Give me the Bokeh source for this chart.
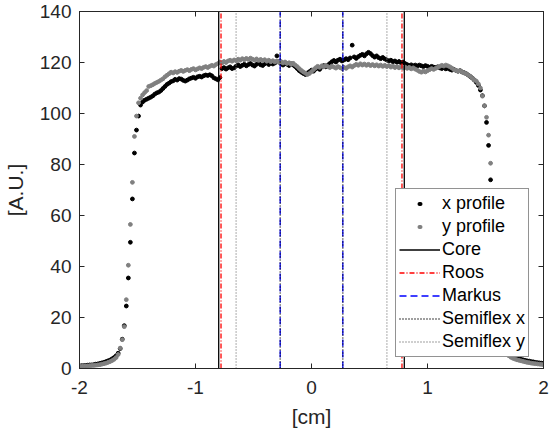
import numpy as np
from bokeh.plotting import figure
from bokeh.models import Range1d, FixedTicker, LinearAxis, Legend, LegendItem
from bokeh.embed import file_html
from bokeh.resources import INLINE

# ---------------- data ----------------
x_first, x_last, n_samples = -2.0, 2.0, 229
x_cm = np.linspace(x_first, x_last, n_samples)

x_profile = [
    1.0, 1.1, 1.1, 1.2, 1.3, 1.4, 1.4, 1.5, 1.7, 1.8, 2.0, 2.2, 2.4, 2.7, 3.0, 3.3, 3.8, 4.3, 5.0, 6.0,
    7.8, 11.5, 16.8, 24.5, 35.5, 49.5, 66.5, 84.5, 93.5, 99.0, 103.3, 104.5,
    105.2, 105.6, 106.0, 106.4, 106.9, 107.6, 108.1, 108.4, 109.0, 109.8, 110.6, 111.4, 111.9, 112.5,
    112.8, 113.4, 113.1, 113.7, 113.5, 113.0, 112.7, 113.1, 113.6, 113.9, 114.2, 113.8, 114.4, 114.6,
    114.3, 114.8, 115.1, 114.9, 115.2, 114.8, 114.0, 113.6, 113.2, 114.1, 117.6,
    118.0, 117.4, 117.9, 118.3, 117.6, 117.9, 118.6, 119.1, 118.4, 118.9, 119.3, 118.7, 119.2, 119.6,
    119.0, 118.6, 119.3, 119.8, 119.1, 118.8, 119.5, 119.9, 119.2, 120.1, 119.4, 119.8, 122.6, 120.3,
    119.6, 119.0, 119.7, 119.3, 118.8, 119.5, 119.0, 118.4, 117.6, 116.8, 116.2, 115.7, 115.3, 115.9, 116.4,
    117.0, 116.6, 117.4, 117.9, 117.3, 118.2, 118.8, 118.3, 119.0, 119.6, 120.3, 120.8, 120.2, 120.9,
    121.3, 120.6, 121.0, 121.5, 121.1, 121.8, 126.8, 122.2, 121.6, 122.3, 122.8, 123.2, 122.6, 123.4,
    124.0, 123.5, 122.7, 122.1, 122.6, 121.9, 121.5, 122.0, 121.4,
    121.0, 120.6, 120.9, 120.3, 120.6, 120.1, 120.4, 119.9, 120.2, 119.6, 119.2, 118.8, 119.1, 118.7,
    119.0, 118.6, 119.0, 118.7, 118.4, 118.8, 118.5, 118.1, 118.5, 118.2, 118.0, 118.3, 117.9, 117.6,
    118.0, 117.5, 117.8, 117.3, 117.0, 117.3, 116.9, 116.6, 116.8, 116.3, 116.0, 115.6, 115.1, 114.5,
    113.9, 113.1, 112.2,
    111.0, 109.2, 107.0, 103.0, 96.5, 87.5, 74.0, 58.0, 42.0, 28.5, 19.0, 13.0, 9.3, 7.2, 6.0,
    5.2, 4.8, 4.5, 4.2, 4.0, 3.8, 3.6, 3.4, 3.2, 3.0, 2.9, 2.7, 2.6, 2.4, 2.3, 2.2, 2.1, 2.0,
]

y_profile = [
    0.8, 0.9, 0.9, 1.0, 1.0, 1.1, 1.2, 1.2, 1.3, 1.4, 1.5, 1.7, 1.9, 2.1, 2.4, 2.7, 3.1, 3.6, 4.3, 5.5,
    8.0, 11.3, 16.4, 27.0, 40.5, 56.5, 73.0, 91.0, 99.0, 104.2, 106.0, 107.3,
    108.2, 109.0, 110.6, 110.9, 111.3, 111.8, 112.2, 112.6, 113.1, 113.6, 114.4, 115.0, 115.6, 116.2,
    115.9, 116.4, 116.1, 116.6, 116.9, 116.5, 116.9, 117.2, 116.8, 117.3, 117.6, 117.1, 117.5, 117.9,
    117.6, 118.1, 118.4, 118.0, 118.5, 118.9, 118.6, 119.2, 119.6, 120.2, 119.8,
    120.4, 120.0, 120.6, 120.9, 120.5, 121.0, 120.7, 121.3, 120.9, 121.5, 121.1, 121.6, 121.2, 121.7,
    121.3, 120.9, 121.4, 120.8, 121.2, 120.7, 121.1, 120.5, 120.9, 120.3, 120.7, 120.2, 120.6, 120.0,
    120.4, 119.8, 120.2, 119.6, 119.9, 119.3, 119.7, 119.0, 118.4, 117.6, 116.9, 116.3, 115.8, 115.3, 115.7,
    116.4, 117.2, 117.9, 118.5, 118.1, 118.7, 118.3, 118.9, 118.4, 118.0, 118.6, 118.2, 117.8, 118.4,
    118.0, 117.6, 118.1, 117.7, 118.3, 118.7, 118.2, 118.8, 119.3, 118.9, 119.5, 119.0, 119.4, 118.9,
    119.3, 118.8, 119.2, 118.7, 119.1, 118.6, 119.0, 118.5, 118.9,
    118.4, 118.8, 118.2, 118.6, 118.0, 118.4, 117.9, 118.3, 117.8, 118.2, 117.7, 118.1, 117.5, 117.9,
    117.4, 117.0, 116.5, 116.2, 116.6, 116.3, 116.8, 117.2, 117.6, 117.3, 117.7, 118.1, 118.5, 118.9,
    118.6, 119.0, 118.7, 118.3, 117.8, 117.2, 116.9, 116.5, 116.8, 116.3, 115.9, 115.6, 115.1, 114.6,
    113.9, 113.2, 112.7,
    111.6, 110.0, 106.8, 103.0, 98.5, 91.5, 80.5, 64.0, 47.0, 33.0, 22.0, 15.0, 10.5, 7.8, 6.0,
    5.0, 4.4, 4.0, 3.7, 3.4, 3.2, 3.0, 2.8, 2.6, 2.4, 2.3, 2.1, 2.0, 1.9, 1.8, 1.7, 1.6, 1.5,
]

# chamber edges (cm)
core_edges = [-0.80, 0.80]
roos_edges = [-0.78, 0.78]
markus_edges = [-0.27, 0.27]
semiflex_x_edges = [-0.27, 0.27]
semiflex_y_edges = [-0.65, 0.65]

x_ticks = [-2, -1, 0, 1, 2]
x_tick_text = {-2: "-2", -1: "-1", 0: "0", 1: "1", 2: "2"}
y_ticks = [0, 20, 40, 60, 80, 100, 120, 140]
x_lo, x_hi = -2, 2
y_lo, y_hi = 0, 140

FONT = "Liberation Sans"
AX = "#262626"

p = figure(width=549, height=435, output_backend="svg", toolbar_location=None,
           x_range=Range1d(x_lo, x_hi), y_range=Range1d(y_lo, y_hi),
           min_border_left=75, min_border_right=6, min_border_top=11, min_border_bottom=67)
p.background_fill_color = "white"
p.border_fill_color = "white"
p.outline_line_color = AX
p.xgrid.visible = False
p.ygrid.visible = False

for ax, ticks in ((p.xaxis[0], x_ticks), (p.yaxis[0], y_ticks)):
    ax.ticker = FixedTicker(ticks=ticks)
    ax.major_tick_in = 5
    ax.major_tick_out = 0
    ax.minor_tick_line_color = None
    ax.axis_line_color = AX
    ax.major_tick_line_color = AX
    ax.major_label_text_font = FONT
    ax.major_label_text_font_size = "19px"
    ax.major_label_text_color = AX
    ax.axis_label_text_font = FONT
    ax.axis_label_text_font_size = "21px"
    ax.axis_label_text_font_style = "normal"
    ax.axis_label_text_color = AX

p.xaxis.major_label_overrides = x_tick_text
p.xaxis.axis_label = "[cm]"
p.yaxis.axis_label = "[A.U.]"
p.xaxis.major_label_standoff = 12
p.yaxis.major_label_standoff = 8
p.xaxis.axis_label_standoff = 8
p.yaxis.axis_label_standoff = 10

# mirrored ticks on top and right (box on)
for place, ticks in (("above", x_ticks), ("right", y_ticks)):
    ax = LinearAxis(ticker=FixedTicker(ticks=ticks), major_tick_in=5, major_tick_out=0,
                    minor_tick_line_color=None, axis_line_color=AX, major_tick_line_color=AX,
                    major_label_text_color=None, major_label_text_font_size="1px",
                    major_label_standoff=0)
    p.add_layout(ax, place)

r_x = p.scatter(x_cm, x_profile, size=3.8, marker="circle", color="black")
r_y = p.scatter(x_cm, y_profile, size=3.8, marker="circle", color="#808080")

# legend-only swatches (NaN data, nothing drawn in the plot): a single round dot
nan = float("nan")
lg_x = p.line(x=[nan], y=[nan], line_color="black", line_width=4, line_cap="round",
              line_dash="1 100", line_dash_offset=81)
lg_y = p.line(x=[nan], y=[nan], line_color="#808080", line_width=4, line_cap="round",
              line_dash="1 100", line_dash_offset=81)

def vlines(xs, **kw):
    return p.segment(x0=xs, y0=[y_lo] * len(xs), x1=xs, y1=[y_hi] * len(xs), **kw)

r_core = vlines(core_edges, line_color="black", line_width=1.3)
r_roos = vlines(roos_edges, line_color="#ff0000", line_width=1.3, line_dash="5 2 1 2")
r_markus = vlines(markus_edges, line_color="#0000ff", line_width=1.3, line_dash="7 4")
r_sfx = vlines(semiflex_x_edges, line_color="black", line_width=1.3, line_dash="1 2")
r_sfy = vlines(semiflex_y_edges, line_color="#808080", line_width=1.3, line_dash="1 2")

legend = Legend(items=[
    LegendItem(label="x profile", renderers=[lg_x]),
    LegendItem(label="y profile", renderers=[lg_y]),
    LegendItem(label="Core", renderers=[r_core]),
    LegendItem(label="Roos", renderers=[r_roos]),
    LegendItem(label="Markus", renderers=[r_markus]),
    LegendItem(label="Semiflex x", renderers=[r_sfx]),
    LegendItem(label="Semiflex y", renderers=[r_sfy]),
], location=(316, 11))
legend.label_text_font = FONT
legend.label_text_font_size = "18px"
legend.label_text_color = "black"
legend.border_line_color = AX
legend.border_line_width = 1
legend.background_fill_color = "white"
legend.background_fill_alpha = 1.0
legend.padding = 3
legend.spacing = 0
legend.margin = 0
legend.glyph_width = 41
legend.glyph_height = 23
legend.label_height = 23
legend.label_width = 80
legend.label_standoff = 2
p.add_layout(legend)

open("out.html", "w").write(file_html(p, INLINE))
